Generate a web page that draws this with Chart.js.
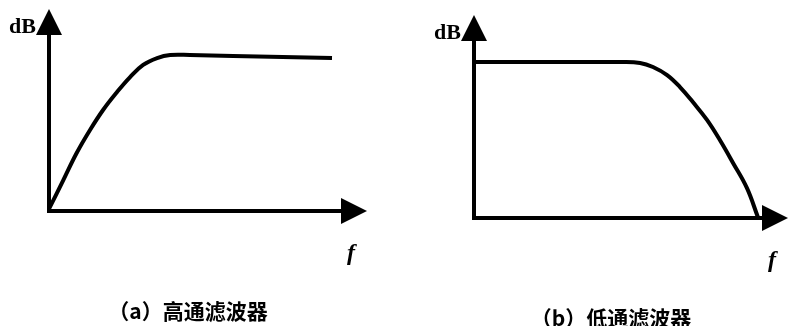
<!DOCTYPE html>
<html lang="zh">
<head>
<meta charset="UTF-8">
<title>高通 / 低通滤波器</title>
<script src="https://cdn.jsdelivr.net/npm/chart.js"></script>
<style>
    body { margin: 0; background: #fff; }
    #wrap { position: relative; width: 789px; height: 326px; overflow: hidden; }
    canvas { position: absolute; top: 0; }
    #hp { left: 0; }
    #lp { left: 400px; }
</style>
</head>
<body>
<div id="wrap">
    <canvas id="hp" width="400" height="326"></canvas>
    <canvas id="lp" width="389" height="326"></canvas>
</div>
<script>
// both axes run 0..100, from the origin to the arrow tip
const axisMax = 100;
const yLabel = "dB";
const xLabel = "f";

// (a) high pass
const hpCaption = "（a）高通滤波器";
const hpX = [0, 4.5, 8.7, 12.9, 17.0, 21.4, 25.5, 29.6, 34.0, 38.1, 44.3, 57.9, 89.0];
const hpY = [1, 15.3, 28.7, 40.1, 50.0, 58.9, 66.3, 72.3, 75.7, 77.2, 77.2, 76.7, 75.7];

// (b) low pass
const lpCaption = "（b）低通滤波器";
const lpX = [0, 46.5, 52.9, 57.0, 61.5, 65.6, 69.7, 74.2, 78.3, 82.5, 86.9, 90.4];
const lpY = [76.8, 76.8, 76.4, 74.4, 70.4, 64.5, 57.1, 48.3, 38.4, 27.1, 14.8, 0.5];

const arrowLen = 26, arrowHalf = 13;
const serif = "'Times New Roman', 'Liberation Serif', 'DejaVu Serif', serif";

const axesPlugin = {
    id: "axes",
    afterDatasetsDraw(chart, args, opts) {
        const ctx = chart.ctx;
        const x = chart.scales.x, y = chart.scales.y;
        const ox = x.getPixelForValue(0), oy = y.getPixelForValue(0);
        const tx = x.getPixelForValue(axisMax), ty = y.getPixelForValue(axisMax);
        ctx.save();
        ctx.strokeStyle = "#000";
        ctx.fillStyle = "#000";
        ctx.lineWidth = 4;
        ctx.lineJoin = "miter";
        ctx.beginPath();
        ctx.moveTo(ox, ty + arrowLen - 1);
        ctx.lineTo(ox, oy);
        ctx.lineTo(tx - arrowLen + 1, oy);
        ctx.stroke();
        // arrow heads
        ctx.beginPath();
        ctx.moveTo(ox, ty);
        ctx.lineTo(ox - arrowHalf, ty + arrowLen);
        ctx.lineTo(ox + arrowHalf, ty + arrowLen);
        ctx.closePath();
        ctx.fill();
        ctx.beginPath();
        ctx.moveTo(tx, oy);
        ctx.lineTo(tx - arrowLen, oy - arrowHalf);
        ctx.lineTo(tx - arrowLen, oy + arrowHalf);
        ctx.closePath();
        ctx.fill();
        // labels
        ctx.font = "bold 22px " + serif;
        ctx.textAlign = "right";
        ctx.textBaseline = "alphabetic";
        ctx.fillText(yLabel, ox - 13, ty + 24);
        ctx.font = "italic bold 24px " + serif;
        ctx.textAlign = "center";
        ctx.textBaseline = "middle";
        ctx.fillText(xLabel, tx - 16, oy + 43);
        ctx.font = "bold 21px 'Noto Sans CJK SC'";
        ctx.fillText(opts.caption, (ox + tx) / 2 - 20, oy + 100);
        ctx.restore();
    }
};

function makeChart(id, xs, ys, caption, pad) {
    new Chart(document.getElementById(id), {
        type: "scatter",
        data: {
            datasets: [{
                data: xs.map((v, i) => ({ x: v, y: ys[i] })),
                showLine: true,
                borderColor: "#000",
                borderWidth: 4,
                pointRadius: 0,
                tension: 0.4,
                clip: false
            }]
        },
        options: {
            responsive: false,
            animation: false,
            devicePixelRatio: 1,
            layout: { padding: pad },
            scales: {
                x: { type: "linear", min: 0, max: axisMax, display: false },
                y: { type: "linear", min: 0, max: axisMax, display: false }
            },
            plugins: {
                legend: { display: false },
                tooltip: { enabled: false },
                axes: { caption: caption }
            }
        },
        plugins: [axesPlugin]
    });
}

makeChart("hp", hpX, hpY, hpCaption, { left: 49, right: 33, top: 9, bottom: 115 });
makeChart("lp", lpX, lpY, lpCaption, { left: 74, right: 1, top: 15, bottom: 108 });
</script>
</body>
</html>
